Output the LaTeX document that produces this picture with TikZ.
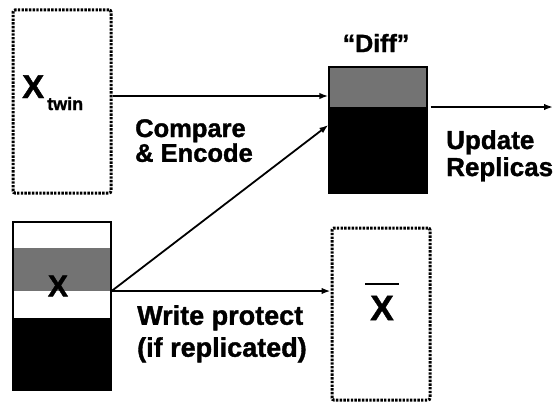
\documentclass[tikz,border=0pt]{standalone}
\usepackage{fontspec}
\setmainfont{Liberation Sans}[Ligatures=TeX, BoldFeatures={FakeBold=1.3}]
\usetikzlibrary{arrows.meta}
\begin{document}
\begin{tikzpicture}[x=1pt,y=-1pt,
  dotbox/.style={draw, line width=3pt, dash pattern=on 2.4pt off 1.3pt, rounded corners=2pt, inner sep=0pt, minimum width=98pt},
  solidbox/.style={draw, line width=1.3pt, inner sep=0pt, minimum width=98pt},
  conn/.style={line width=1.8pt, -{Latex[length=9pt,width=6.5pt]}},
  lab/.style={align=left, inner sep=0pt, anchor=north west},
  shadecol/.style={fill=black!55}]
\useasboundingbox (0,0) rectangle (554,404);

% boxes
\node[dotbox, minimum height=183pt] (twin) at (62,101.5) {};
\node[solidbox, minimum height=126pt,
  path picture={
    \fill[shadecol] (path picture bounding box.north west) rectangle ([yshift=-40pt]path picture bounding box.north east);
    \fill[black] ([yshift=-40pt]path picture bounding box.north west) rectangle (path picture bounding box.south east);
  }] (diff) at (378,130) {};
\node[solidbox, minimum height=168pt,
  path picture={
    \fill[shadecol] ([yshift=-26pt]path picture bounding box.north west) rectangle ([yshift=-69pt]path picture bounding box.north east);
    \fill[black] ([yshift=72pt]path picture bounding box.south west) rectangle (path picture bounding box.south east);
  }] (xbox) at (62,306) {};
\node[dotbox, minimum height=172pt] (xbar) at (381,314) {};

% labels inside/around boxes
\node[anchor=base west, inner sep=0pt, font=\fontsize{33}{33}\selectfont\bfseries] (xt) at (22,98)
  {X\hspace{3pt}\raisebox{-12pt}{\fontsize{18}{18}\selectfont twin}};
\node[inner sep=0pt, font=\fontsize{30}{30}\selectfont\bfseries] (xl) at (58,286) {X};
\node[inner sep=0pt, font=\fontsize{35}{35}\selectfont\bfseries] (xbl) at (382,308) {X};
\draw[line width=2.2pt] ([xshift=-5pt,yshift=12pt]xbl.north west) -- ([xshift=5pt,yshift=12pt]xbl.north east);
\node[inner sep=0pt, font=\fontsize{25}{25}\selectfont\bfseries] (dl) at (376,43) {“Diff”};

% connector labels
\node[lab, font=\fontsize{25.5}{23}\selectfont\bfseries] (ce) at (135,119) {Compare\\\& Encode};
\node[lab, font=\fontsize{26}{27}\selectfont\bfseries] (ur) at (446,130) {Update\\Replicas};
\node[lab, font=\fontsize{27}{32}\selectfont\bfseries] (wp) at (137,305) {Write protect\\(if replicated)};

% connectors
\draw[conn] ([yshift=5.5pt]twin.east) -- ([yshift=5.5pt]twin.east -| diff.west);
\coordinate (xo) at ([yshift=15pt]xbox.east);
\draw[conn] (xo) -- ([yshift=5pt]diff.west);
\draw[conn] (xo) -- (xo -| xbar.west);
\coordinate (out) at (553,107);
\draw[conn] ([xshift=3pt,yshift=23pt]diff.east) -- (out);
\end{tikzpicture}
\end{document}
